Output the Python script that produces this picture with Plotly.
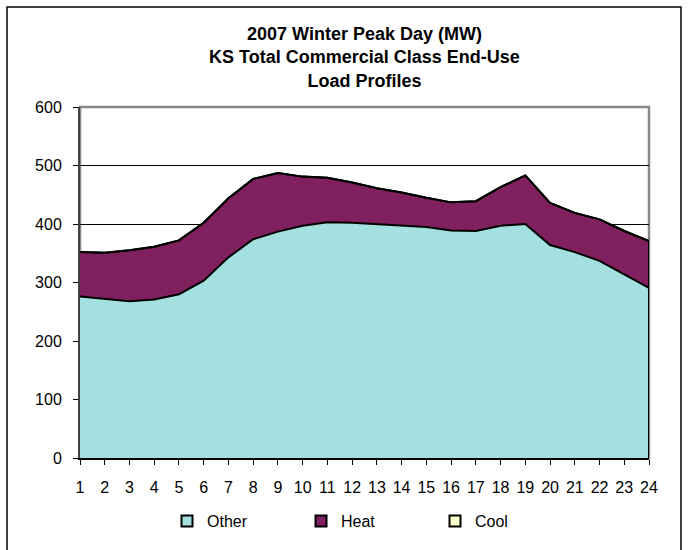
import plotly.graph_objects as go

# Hourly end-use loads (MW), KS commercial class, 2007 winter peak day
hours = list(range(1, 25))
other = [276, 272, 268, 271, 280, 303, 343, 374, 387, 397, 403, 402,
         400, 398, 395, 389, 388, 397, 400, 364, 352, 337, 314, 291]
heat = [76, 79, 87, 90, 92, 99, 101, 103, 100, 84, 76, 69,
        61, 56, 50, 48, 51, 66, 83, 72, 67, 71, 74, 80]
cool = [0] * 24
y_ticks = [0, 100, 200, 300, 400, 500, 600]

FONT = "Liberation Sans, Arial, sans-serif"
colors = {"Other": "#A5E0E0", "Heat": "#80205E", "Cool": "#FFFFCC"}

fig = go.Figure()

# stacked areas with black outlines
for name, vals in (("Other", other), ("Heat", heat), ("Cool", cool)):
    fig.add_trace(go.Scatter(
        x=hours, y=vals, name=name, stackgroup="one", mode="lines",
        line=dict(color="black", width=2), fillcolor=colors[name],
        showlegend=False, hoverinfo="x+y+name",
    ))

# closing edge of the stack at the last hour
total_last = other[-1] + heat[-1] + cool[-1]
fig.add_trace(go.Scatter(
    x=[hours[-1], hours[-1]], y=[0, total_last], mode="lines",
    line=dict(color="black", width=2), showlegend=False, hoverinfo="skip",
))

# square legend keys with black borders
for name in ("Other", "Heat", "Cool"):
    fig.add_trace(go.Scatter(
        x=[None], y=[None], name=name, mode="markers",
        marker=dict(symbol="square", size=11, color=colors[name],
                    line=dict(color="black", width=2)),
    ))

fig.update_layout(
    width=691, height=550,
    margin=dict(l=80, r=42, t=107, b=92),
    paper_bgcolor="white", plot_bgcolor="white",
    font=dict(family=FONT, size=16, color="black"),
    title=dict(
        text="2007 Winter Peak Day (MW)<br>KS Total Commercial Class End-Use<br>Load Profiles",
        x=0.5, xref="paper", xanchor="center",
        y=1 - 40 / 550, yref="container", yanchor="top",
        font=dict(family=FONT, size=18, color="black", weight="bold"),
    ),
    xaxis=dict(
        range=[1, 24], tickmode="array", tickvals=hours,
        ticktext=[str(h) for h in hours],
        showgrid=False, zeroline=False,
        showline=True, linecolor="black", linewidth=2,
        ticks="outside", ticklen=5, tickwidth=1, tickcolor="black",
        ticklabelstandoff=9,
    ),
    yaxis=dict(
        range=[0, 600], tickmode="array", tickvals=y_ticks,
        showgrid=True, gridcolor="black", gridwidth=1, zeroline=False,
        showline=True, linecolor="#404040", linewidth=2,
        ticks="outside", ticklen=5, tickwidth=1, tickcolor="black",
        ticklabelstandoff=8,
    ),
    legend=dict(
        orientation="h", traceorder="normal",
        x=(167 - 80) / 569, xanchor="left",
        y=(458 - 521) / 351, yanchor="middle",
        font=dict(family=FONT, size=16, color="black"),
        entrywidth=89, entrywidthmode="pixels",
        bgcolor="rgba(0,0,0,0)",
    ),
    shapes=[
        # plot area frame
        dict(type="rect", xref="paper", yref="paper", x0=0, x1=1, y0=0, y1=1,
             line=dict(color="#888888", width=2.5), layer="below"),
        # chart border
        dict(type="rect", xref="paper", yref="paper",
             x0=(7 - 80) / 569, x1=(681 - 80) / 569,
             y0=(458 - 560) / 351, y1=(458 - 7) / 351,
             line=dict(color="black", width=1.5), layer="above"),
    ],
)

fig.write_html("out.html")
